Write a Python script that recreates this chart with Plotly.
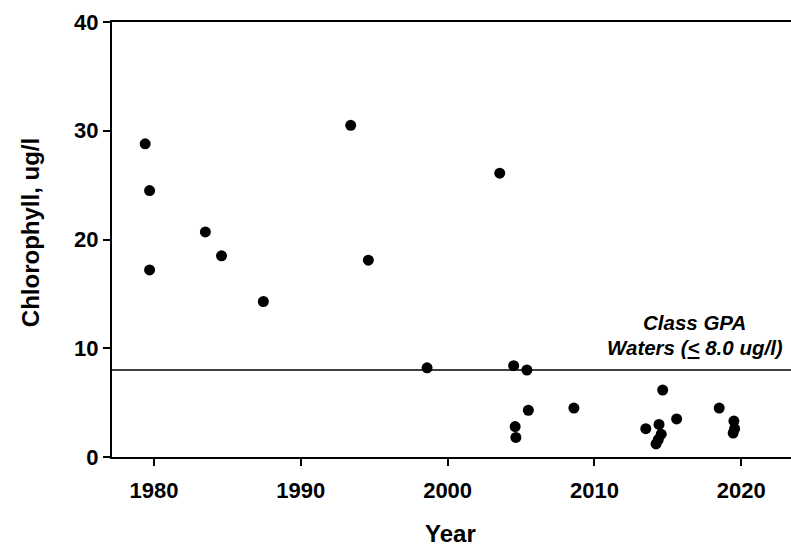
import plotly.graph_objects as go

years = [1979.4, 1979.7, 1979.7, 1983.5, 1984.6, 1987.45, 1993.4, 1994.6, 1998.6,
         2003.55, 2004.5, 2005.4, 2005.5, 2004.6, 2004.65, 2008.6, 2013.5, 2014.4,
         2014.55, 2014.35, 2014.2, 2014.65, 2015.6, 2018.5, 2019.5, 2019.55, 2019.45]
chlorophyll = [28.8, 24.5, 17.2, 20.7, 18.5, 14.3, 30.5, 18.1, 8.2,
               26.1, 8.4, 8.0, 4.3, 2.8, 1.8, 4.5, 2.6, 3.0,
               2.1, 1.6, 1.2, 6.15, 3.5, 4.5, 3.3, 2.6, 2.2]
standard = 8.0
x_ticks = [1980, 1990, 2000, 2010, 2020]
y_ticks = [0, 10, 20, 30, 40]

FONT = "Liberation Sans, Arial, sans-serif"

fig = go.Figure()
fig.add_trace(go.Scatter(
    x=years, y=chlorophyll, mode="markers",
    marker=dict(size=11, color="black", line=dict(width=0)),
    showlegend=False, hoverinfo="x+y",
))

fig.add_shape(type="line", xref="paper", yref="y", x0=0, x1=1,
              y0=standard, y1=standard, line=dict(color="black", width=1.4))

ann_font = dict(family=FONT, size=20.5, color="black", weight="bold", style="italic")
fig.add_annotation(x=2016.85, y=12.4, xref="x", yref="y", text="Class GPA",
                   showarrow=False, xanchor="center", yanchor="middle", font=ann_font)
fig.add_annotation(x=2022.98, y=10.1, xref="x", yref="y",
                   text="Waters (<u><</u> 8.0 ug/l)",
                   showarrow=False, xanchor="right", yanchor="middle", font=ann_font)

title_font = dict(family=FONT, size=24, color="black", weight="bold")
fig.add_annotation(x=0.4978, y=-0.1755, xref="paper", yref="paper", text="Year",
                   showarrow=False, xanchor="center", yanchor="middle", font=title_font)
fig.add_annotation(x=-0.1200, y=0.5158, xref="paper", yref="paper", text="Chlorophyll, ug/l",
                   textangle=-90, showarrow=False, xanchor="center", yanchor="middle",
                   font=title_font)

fig.update_layout(
    width=791, height=546,
    margin=dict(l=112, r=0, t=22, b=89),
    paper_bgcolor="white", plot_bgcolor="white",
    font=dict(family=FONT, color="black"),
    xaxis=dict(
        range=[1977.14, 2023.39], tickvals=x_ticks, ticktext=[str(v) for v in x_ticks],
        showgrid=False, zeroline=False, showline=True, linecolor="black", linewidth=2,
        mirror=True, ticks="outside", ticklen=7, tickwidth=2, tickcolor="black",
        tickfont=dict(family=FONT, size=22, weight="bold"), automargin=False,
        ticklabelstandoff=6,
    ),
    yaxis=dict(
        range=[0, 40], tickvals=y_ticks, ticktext=[str(v) for v in y_ticks],
        showgrid=False, zeroline=False, showline=True, linecolor="black", linewidth=2,
        ticks="outside", ticklen=7, tickwidth=2, tickcolor="black",
        tickfont=dict(family=FONT, size=22, weight="bold"), automargin=False,
    ),
)

fig.write_html("out.html", config={"displayModeBar": False},
               post_script="document.body.style.margin='0';")
